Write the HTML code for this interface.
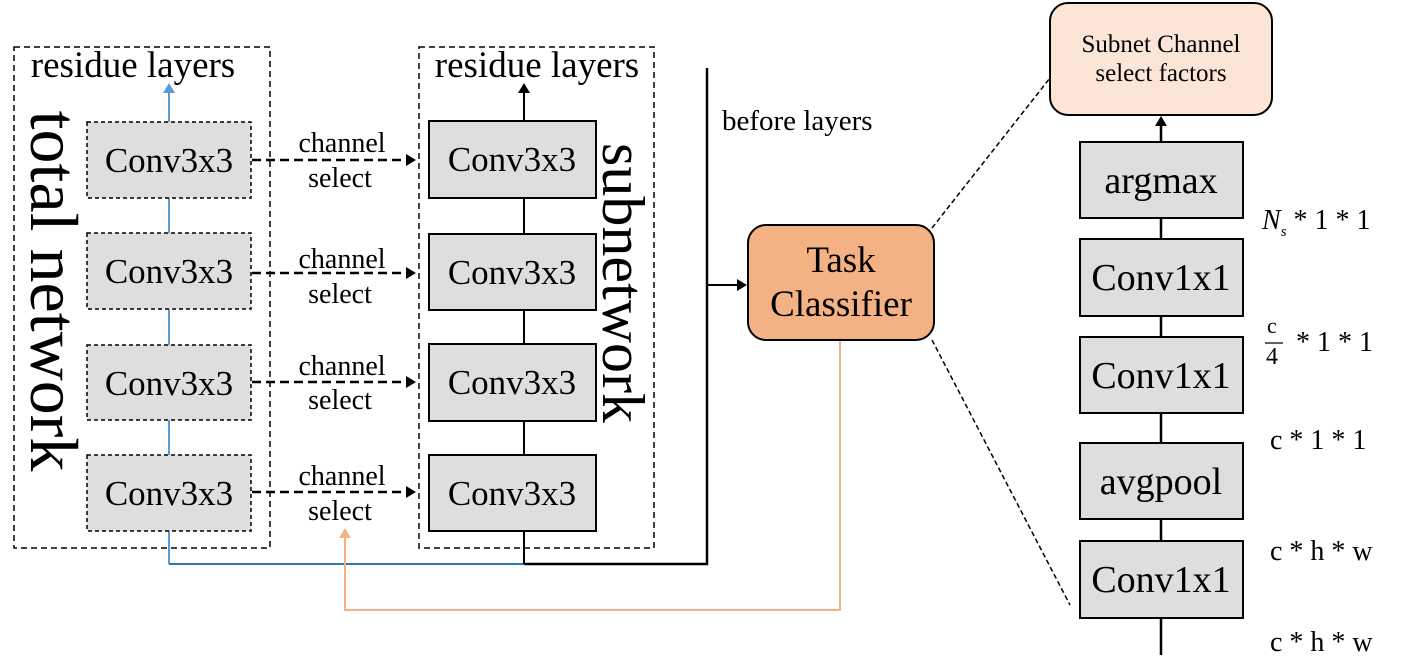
<!DOCTYPE html>
<html><head><style>
body{margin:0;background:#fff;}
svg{display:block;font-family:"Liberation Serif",serif;}
</style></head><body>
<svg width="1427" height="670" viewBox="0 0 1427 670">
<defs>
<marker id="ab" markerWidth="10" markerHeight="12" refX="8" refY="6" orient="auto" markerUnits="userSpaceOnUse"><path d="M0,0 L10,6 L0,12 z" fill="#000"/></marker>
<marker id="abl" markerWidth="10" markerHeight="12" refX="8" refY="6" orient="auto" markerUnits="userSpaceOnUse"><path d="M0,0 L10,6 L0,12 z" fill="#5b9bd5"/></marker>
<marker id="ao" markerWidth="10" markerHeight="12" refX="8" refY="6" orient="auto" markerUnits="userSpaceOnUse"><path d="M0,0 L10,6 L0,12 z" fill="#f4b183"/></marker>
</defs>
<rect x="14" y="47" width="256" height="501" fill="none" stroke="#000" stroke-width="1.5" stroke-dasharray="6,4"/>
<rect x="419" y="47" width="235" height="501" fill="none" stroke="#000" stroke-width="1.5" stroke-dasharray="6,4"/>
<text x="133" y="77" font-size="37" text-anchor="middle">residue layers</text>
<text x="537" y="77" font-size="37" text-anchor="middle">residue layers</text>
<text transform="translate(31,291) rotate(90)" font-size="68" text-anchor="middle">total network</text>
<text transform="translate(603,283) rotate(90)" font-size="60" text-anchor="middle">subnetwork</text>
<line x1="169" y1="564" x2="169" y2="85" stroke="#5b9bd5" stroke-width="2" marker-end="url(#abl)"/>
<line x1="169" y1="564" x2="524" y2="564" stroke="#2e75b6" stroke-width="2"/>
<line x1="524" y1="564" x2="524" y2="85" stroke="#000" stroke-width="2" marker-end="url(#ab)"/>
<polyline points="524,564 707,564 707,68" fill="none" stroke="#000" stroke-width="2.5"/>
<line x1="707" y1="285" x2="745" y2="285" stroke="#000" stroke-width="2" marker-end="url(#ab)"/>
<text x="722" y="130" font-size="29">before layers</text>
<g font-size="35" text-anchor="middle">
<rect x="87" y="122" width="164" height="76" fill="#dedede" stroke="#000" stroke-width="1.5" stroke-dasharray="4,3"/><text x="169" y="172">Conv3x3</text>
<rect x="87" y="233" width="164" height="76" fill="#dedede" stroke="#000" stroke-width="1.5" stroke-dasharray="4,3"/><text x="169" y="283">Conv3x3</text>
<rect x="87" y="345" width="164" height="75" fill="#dedede" stroke="#000" stroke-width="1.5" stroke-dasharray="4,3"/><text x="169" y="395">Conv3x3</text>
<rect x="87" y="455" width="164" height="76" fill="#dedede" stroke="#000" stroke-width="1.5" stroke-dasharray="4,3"/><text x="169" y="505">Conv3x3</text>
<rect x="429" y="121" width="167" height="77" fill="#dedede" stroke="#000" stroke-width="2"/><text x="512" y="171">Conv3x3</text>
<rect x="429" y="234" width="167" height="76" fill="#dedede" stroke="#000" stroke-width="2"/><text x="512" y="284">Conv3x3</text>
<rect x="429" y="344" width="167" height="77" fill="#dedede" stroke="#000" stroke-width="2"/><text x="512" y="394">Conv3x3</text>
<rect x="429" y="455" width="167" height="76" fill="#dedede" stroke="#000" stroke-width="2"/><text x="512" y="505">Conv3x3</text>
</g>
<g stroke="#000" stroke-width="2.5" stroke-dasharray="9,5">
<line x1="252" y1="160" x2="414" y2="160" marker-end="url(#ab)"/>
<line x1="252" y1="273" x2="414" y2="273" marker-end="url(#ab)"/>
<line x1="252" y1="382" x2="414" y2="382" marker-end="url(#ab)"/>
<line x1="252" y1="492" x2="414" y2="492" marker-end="url(#ab)"/>
</g>
<g font-size="28" text-anchor="middle">
<text x="342" y="152">channel</text><text x="340" y="187">select</text>
<text x="342" y="268">channel</text><text x="340" y="303">select</text>
<text x="342" y="375">channel</text><text x="340" y="409">select</text>
<text x="342" y="485">channel</text><text x="340" y="520">select</text>
</g>
<polyline points="840,340 840,610 345,610 345,530" fill="none" stroke="#f4b183" stroke-width="2" marker-end="url(#ao)"/>
<rect x="748" y="225" width="186" height="115" rx="18" fill="#f4b183" stroke="#000" stroke-width="2"/>
<text x="841" y="272" font-size="37" text-anchor="middle">Task</text>
<text x="841" y="316" font-size="37" text-anchor="middle">Classifier</text>
<line x1="932" y1="228" x2="1050" y2="78" stroke="#000" stroke-width="1.5" stroke-dasharray="5,3"/>
<line x1="932" y1="340" x2="1070" y2="605" stroke="#000" stroke-width="1.5" stroke-dasharray="5,3"/>
<rect x="1050" y="3" width="222" height="112" rx="18" fill="#fbe5d6" stroke="#000" stroke-width="2"/>
<text x="1161" y="52" font-size="25" text-anchor="middle">Subnet Channel</text>
<text x="1161" y="81" font-size="25" text-anchor="middle">select factors</text>
<line x1="1161" y1="655" x2="1161" y2="118" stroke="#000" stroke-width="2.5" marker-end="url(#ab)"/>
<g font-size="38" text-anchor="middle">
<rect x="1080" y="142" width="163" height="76" fill="#dedede" stroke="#000" stroke-width="2"/><text x="1161" y="193">argmax</text>
<rect x="1080" y="239" width="163" height="77" fill="#dedede" stroke="#000" stroke-width="2"/><text x="1161" y="290">Conv1x1</text>
<rect x="1080" y="337" width="163" height="76" fill="#dedede" stroke="#000" stroke-width="2"/><text x="1161" y="388">Conv1x1</text>
<rect x="1080" y="443" width="163" height="76" fill="#dedede" stroke="#000" stroke-width="2"/><text x="1161" y="494">avgpool</text>
<rect x="1080" y="541" width="163" height="77" fill="#dedede" stroke="#000" stroke-width="2"/><text x="1161" y="592">Conv1x1</text>
</g>
<g font-size="28">
<text x="1262" y="229"><tspan font-style="italic">N</tspan><tspan font-size="15" font-style="italic" dy="7">s</tspan><tspan dy="-7"> * 1 * 1</tspan></text>
<text x="1267" y="333" font-size="22">c</text>
<line x1="1265" y1="343" x2="1283" y2="343" stroke="#000" stroke-width="1.2"/>
<text x="1266" y="364" font-size="24">4</text>
<text x="1296" y="351">* 1 * 1</text>
<text x="1270" y="449">c * 1 * 1</text>
<text x="1270" y="560">c * h * w</text>
<text x="1270" y="651">c * h * w</text>
</g>
</svg>
</body></html>
